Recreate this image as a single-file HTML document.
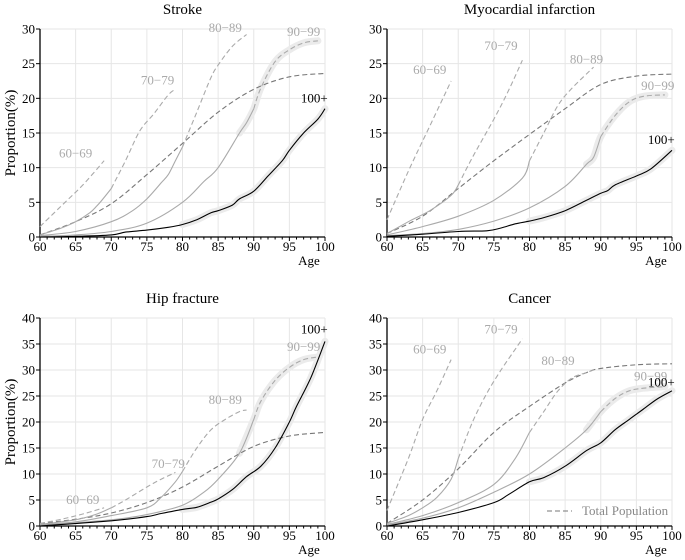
<!DOCTYPE html>
<html><head><meta charset="utf-8"><style>
html,body{margin:0;padding:0;background:#fff;}
svg{display:block;}
svg text{font-family:"Liberation Serif","Times New Roman",Times,"DejaVu Serif","Noto Serif CJK SC",serif;}
</style></head><body>
<svg id="chart" width="685" height="560" viewBox="0 0 685 560"></svg>
<script>
const panelTitles=["Stroke","Myocardial infarction","Hip fracture","Cancer"];
const panelYMax=[30,30,40,40];
const cohortNames=["60-69","70-79","80-89","90-99","100+"];
const cohortStart=[60,70,80,90,100];
const strokeSeries=[
 [[60,1.5],[63,4.5],[66,7.5],[69,11]],
 [[60,0.3],[63,1.3],[65,2.2],[67,3.5],[68,4.5],[69,5.7],[70,7],[72,11],[74,15.3],[76,17.8],[78,20.5],[79,21.3]],
 [[60,0.2],[65,0.8],[70,2.2],[73,3.8],[75,5.5],[77,7.8],[78,9],[79,11],[80,13],[82,18],[84,23],[85,24.8],[87,27.5],[89,29.2]],
 [[60,0.1],[65,0.3],[70,0.8],[75,2],[80,5],[83,8],[85,10],[88,15],[89,16.5],[90,18.5],[91,21.5],[93,25.3],[95,27],[97,28],[99,28.3]],
 [[60,0],[65,0.1],[70,0.3],[72,0.7],[75,1],[78,1.4],[80,1.8],[82,2.5],[84,3.5],[85,3.8],[87,4.6],[88,5.5],[90,6.6],[92,8.8],[94,11],[95,12.5],[97,15],[99,17],[100,18.5]]
];
const strokeTotal=[[60,0.3],[65,2.2],[70,4.8],[75,9],[80,13.5],[85,18],[90,21.3],[95,23.1],[100,23.6]];
const miSeries=[
 [[60,2.5],[63,9.5],[66,16],[69,22.5]],
 [[60,0.5],[63,2.2],[66,3.8],[69,6],[70,7.5],[72,11.5],[75,17],[77,21],[79,25.5]],
 [[60,0.3],[65,1.5],[70,3],[75,5.3],[79,8.5],[80,11],[82,15],[84,19],[86,21.5],[89,24.5]],
 [[60,0.2],[65,0.5],[70,1.1],[75,2.3],[80,4.2],[85,7.3],[88,10.5],[89,11.5],[90,14.5],[92,17.5],[94,19.5],[96,20.3],[99,20.5]],
 [[60,0.1],[65,0.4],[70,0.8],[74,0.9],[76,1.3],[78,1.9],[80,2.3],[82,2.8],[85,3.8],[88,5.3],[90,6.3],[91,6.7],[92,7.5],[95,8.8],[97,9.8],[100,12.5]]
];
const miTotal=[[60,0.5],[65,3],[70,7],[75,11],[80,14.8],[85,18.5],[90,22],[95,23.2],[100,23.5]];
const hipSeries=[
 [[60,0.5],[63,1.3],[66,2.3],[69,3.5]],
 [[60,0.3],[65,1.2],[68,2.3],[70,3.5],[72,5],[75,7.5],[77,9],[79,10.3]],
 [[60,0.2],[65,0.8],[70,2],[75,3.5],[77,5.5],[79,8.5],[80,10.5],[82,15],[84,18.5],[86,20.5],[88,22],[89,22.3]],
 [[60,0.1],[70,1.2],[75,2.2],[80,4],[83,6.5],[85,9],[88,14],[90,20.5],[91,24],[93,28],[95,30.5],[97,32],[99,32.5]],
 [[60,0],[70,1],[75,1.8],[77,2.4],[80,3.2],[82,3.6],[84,4.6],[85,5.2],[87,7],[89,9.5],[91,11.5],[93,15],[95,20],[96,23],[98,28.5],[100,35.5]]
];
const hipTotal=[[60,0.5],[65,1.3],[70,2.5],[75,4.5],[80,7.5],[85,11.5],[90,15.3],[95,17.3],[100,18]];
const cancerSeries=[
 [[60,3],[63,13],[65,20.5],[67,26],[69,32]],
 [[60,0.5],[63,2],[65,3.5],[67,5.5],[69,9],[70,13],[72,20],[74,25.5],[76,30],[78,34],[79,36]],
 [[60,0.3],[65,2],[70,4.5],[75,8],[78,13],[80,18],[82,22],[84,26],[86,28.5],[88,29.5],[89,30]],
 [[60,0.2],[65,1.5],[70,3.5],[75,6.5],[80,10],[85,15],[88,18.5],[90,22],[92,24.5],[94,26],[96,26.5],[99,26.8]],
 [[60,0],[65,1.2],[70,2.6],[75,4.5],[77,6],[80,8.5],[82,9.3],[85,11.5],[88,14.5],[90,16],[92,18.5],[94,20.5],[96,22.5],[98,24.5],[100,26]]
];
const cancerTotal=[[60,0.5],[65,5],[70,11],[75,18],[80,23],[85,27.5],[88,29.5],[90,30.3],[95,31],[100,31.2]];
const allSeries=[strokeSeries,miSeries,hipSeries,cancerSeries];
const allTotals=[strokeTotal,miTotal,hipTotal,cancerTotal];
const labelPos=[
 [[65,11.5],[76.5,22],[86,29.6],[97,29],[98.5,19.4]],
 [[66,23.5],[76,27],[88,25],[98,21.2],[98.5,13.4]],
 [[66,4.2],[78,11.2],[86,23.5],[97,33.7],[98.5,37]],
 [[66,33.2],[76,37],[84,31],[97,28],[98.5,26.8]]
];
const xTicks=[60,65,70,75,80,85,90,95,100];

const NS="http://www.w3.org/2000/svg";
const svg=document.getElementById('chart');
function mk(tag,attrs,parent){const e=document.createElementNS(NS,tag);for(const k in attrs)e.setAttribute(k,attrs[k]);(parent||svg).appendChild(e);return e;}
const boxes=[{x0:40,x1:325,y0:237,y1:29},{x0:387,x1:672,y0:237,y1:29},{x0:40,x1:325,y0:526,y1:318},{x0:387,x1:672,y0:526,y1:318}];

for(let p=0;p<4;p++){
 const b=boxes[p],ymax=panelYMax[p];
 const xs=a=>b.x0+(a-60)/40*(b.x1-b.x0);
 const ys=v=>b.y0-v/ymax*(b.y0-b.y1);
 const g=mk('g',{});
 
 
 const t=mk('text',{x:(b.x0+b.x1)/2,y:b.y1-15,'text-anchor':'middle','font-size':15},g);
 t.textContent=panelTitles[p];
 
 
 for(const a of xTicks){ if(a>60) mk('line',{x1:xs(a),x2:xs(a),y1:b.y0,y2:b.y1,stroke:'#e6e6e6','stroke-width':1},g);}
 for(let v=5;v<=ymax;v+=5){ mk('line',{x1:b.x0,x2:b.x1,y1:ys(v),y2:ys(v),stroke:'#e6e6e6','stroke-width':1},g);}
 mk('line',{x1:b.x0,x2:b.x1,y1:b.y0,y2:b.y0,stroke:'#000','stroke-width':1.3},g);
 mk('line',{x1:b.x0,x2:b.x0,y1:b.y0,y2:b.y1,stroke:'#000','stroke-width':1.3},g);
 for(let a=60;a<=100;a++){ const L=a%5===0?4:2.5; mk('line',{x1:xs(a),x2:xs(a),y1:b.y0,y2:b.y0+L,stroke:'#000'},g);}
 for(const a of xTicks){ const tx=mk('text',{x:xs(a),y:b.y0+14,'text-anchor':'middle','font-size':13},g); tx.textContent=a;
   }
 for(let v=0;v<=ymax;v+=5){ mk('line',{x1:b.x0-4,x2:b.x0,y1:ys(v),y2:ys(v),stroke:'#000'},g);
  const ty=mk('text',{x:b.x0-5,y:ys(v)+4.5,'text-anchor':'end','font-size':13},g); ty.textContent=v;
   }
 const ax=mk('text',{x:b.x1-16,y:b.y0+28,'text-anchor':'middle','font-size':13},g); ax.textContent='Age';
  
 if(p%2===0){ const yl=mk('text',{x:0,y:0,'text-anchor':'middle','font-size':15,transform:`translate(15,${(b.y0+b.y1)/2}) rotate(-90)`},g);
  yl.textContent='Proportion(%)';  }
 const path=pts=>{
  const P=pts.map(q=>[xs(q[0]),ys(q[1])]);
  let d='M'+P[0][0].toFixed(1)+','+P[0][1].toFixed(1);
  for(let i=0;i<P.length-1;i++){
   const p0=P[Math.max(0,i-1)],p1=P[i],p2=P[i+1],p3=P[Math.min(P.length-1,i+2)];
   const c1=[p1[0]+(p2[0]-p0[0])/6,p1[1]+(p2[1]-p0[1])/6];
   const c2=[p2[0]-(p3[0]-p1[0])/6,p2[1]-(p3[1]-p1[1])/6];
   d+=' C'+c1[0].toFixed(1)+','+c1[1].toFixed(1)+' '+c2[0].toFixed(1)+','+c2[1].toFixed(1)+' '+p2[0].toFixed(1)+','+p2[1].toFixed(1);
  }
  return d;};
 const series=allSeries[p];
 const bandA=series[3].filter(q=>q[0]>=88), bandB=series[4].filter(q=>q[0]>=80);
 for(const bd of [bandA,bandB]){ const e=mk('path',{d:path(bd),fill:'none',stroke:'#ebebeb','stroke-width':7,'stroke-linecap':'round','stroke-linejoin':'round'},g);
   }
 const tp=mk('path',{d:path(allTotals[p]),fill:'none',stroke:'#777','stroke-width':1.1,'stroke-dasharray':'5,3'},g);
  
 for(let c=0;c<5;c++){
  const s=series[c],st=cohortStart[c];
  const solid=s.filter(q=>q[0]<=st), dashed=s.filter(q=>q[0]>=st);
  if(c===4){ const e=mk('path',{d:path(s),fill:'none',stroke:'#000','stroke-width':1.1},g);
    }
  else{
   if(solid.length>1){ const e=mk('path',{d:path(solid),fill:'none',stroke:'#aaa','stroke-width':1.1},g);
     }
   let dd=dashed; if(solid.length && dashed[0][0]!==st) dd=[solid[solid.length-1]].concat(dashed);
   if(dd.length>1){ const e=mk('path',{d:path(dd),fill:'none',stroke:'#aaa','stroke-width':1.1,'stroke-dasharray':'5,3'},g);
     }
  }
  const lp=labelPos[p][c];
  const lt=mk('text',{x:xs(lp[0]),y:ys(lp[1]),'text-anchor':'middle','font-size':13,fill:c===4?'#000':'#aaa'},g);
  lt.textContent=c===4?'100+':cohortNames[c].replace('-','\u2212');
   
 }
 if(p===3){ const ll=mk('line',{x1:547,x2:572,y1:511,y2:511,stroke:'#777','stroke-dasharray':'5,3'},g);
   
  const lt=mk('text',{x:582,y:515,'font-size':13,fill:'#888'},g); lt.textContent='Total Population';
   }
}
</script>
</body></html>
